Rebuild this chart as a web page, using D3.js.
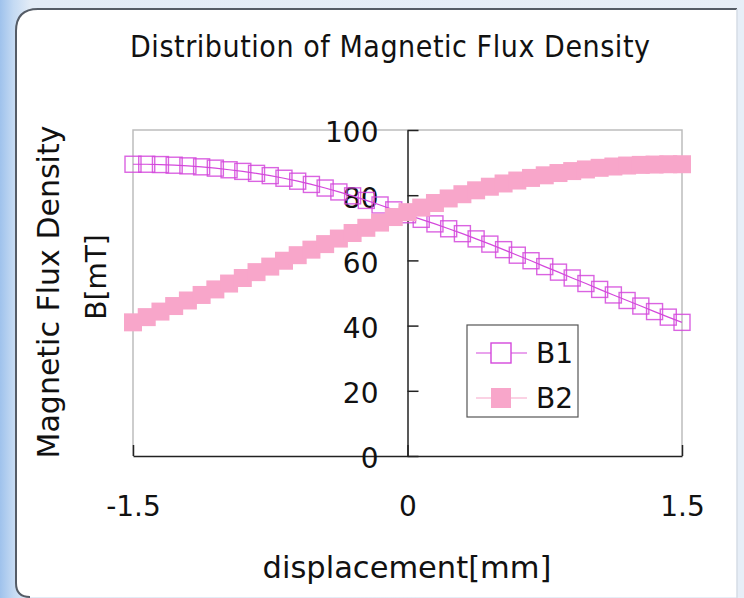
<!DOCTYPE html>
<html>
<head>
<meta charset="utf-8">
<script src="https://cdn.jsdelivr.net/npm/d3@7"></script>
<style>
  html, body { margin: 0; padding: 0; background: #e4edf7; }
  svg { display: block; }
</style>
</head>
<body>
<svg id="chart" width="744" height="598"></svg>
<script>
// Displacement positions [mm]
const displacement = [
  -1.5, -1.425, -1.35, -1.275, -1.2, -1.125, -1.05, -0.975, -0.9, -0.825,
  -0.75, -0.675, -0.6, -0.525, -0.45, -0.375, -0.3, -0.225, -0.15, -0.075,
  0, 0.075, 0.15, 0.225, 0.3, 0.375, 0.45, 0.525, 0.6, 0.675,
  0.75, 0.825, 0.9, 0.975, 1.05, 1.125, 1.2, 1.275, 1.35, 1.425, 1.5
];

// Magnetic flux density B1 [mT]
const b1 = [
  89.5, 89.5, 89.4, 89.2, 89.0, 88.7, 88.3, 87.8, 87.3, 86.7,
  86.0, 85.2, 84.3, 83.3, 82.2, 81.0, 79.8, 78.4, 77.0, 75.5,
  74.0, 72.6, 71.2, 69.7, 68.2, 66.6, 65.0, 63.3, 61.6, 59.9,
  58.1, 56.4, 54.6, 52.9, 51.1, 49.4, 47.7, 46.0, 44.3, 42.6, 41.0
];

// Magnetic flux density B2 [mT]
const b2 = [
  41.0, 42.6, 44.3, 46.0, 47.7, 49.4, 51.1, 52.9, 54.6, 56.4,
  58.1, 59.9, 61.6, 63.3, 65.0, 66.7, 68.4, 70.0, 71.6, 73.3,
  74.8, 76.2, 77.6, 79.0, 80.3, 81.5, 82.6, 83.6, 84.5, 85.3,
  86.1, 86.8, 87.4, 87.9, 88.4, 88.8, 89.1, 89.3, 89.4, 89.5, 89.5
];

const yTicks = [0, 20, 40, 60, 80, 100];
const xTicks = [-1.5, 0, 1.5];
const xTickLabels = ["-1.5", "0", "1.5"];
const seriesNames = ["B1", "B2"];

const title = "Distribution of Magnetic Flux Density";
const xTitle = "displacement[mm]";
const yTitleLines = ["Magnetic Flux Density", "B[mT]"];

const FONT = "'DejaVu Sans', Verdana, sans-serif";
const B1_COLOR = "#d448dc";
const B2_COLOR = "#f8a6ca";

const svg = d3.select("#chart");
const W = 744, H = 598;

// ---- backdrop and rounded panel ----
const defs = svg.append("defs");
const bg = defs.append("linearGradient").attr("id", "bgGrad")
  .attr("x1", "0").attr("x2", "1").attr("y1", "0").attr("y2", "0");
bg.append("stop").attr("offset", "0").attr("stop-color", "#9fc2ec");
bg.append("stop").attr("offset", "0.018").attr("stop-color", "#c4daf3");
bg.append("stop").attr("offset", "0.04").attr("stop-color", "#e2ebf6");
bg.append("stop").attr("offset", "1").attr("stop-color", "#e7eef7");
svg.append("rect").attr("width", W).attr("height", H).attr("fill", "url(#bgGrad)");

const panelPath = "M737,9 H38 Q16,9 16,31 V583 Q16,597 30,597 H737 Z";
svg.append("path").attr("d", panelPath).attr("fill", "#ffffff");
svg.append("path").attr("d", "M737,9 H38 Q16,9 16,31 V583 Q16,597 30,597")
  .attr("fill", "none").attr("stroke", "#555c66").attr("stroke-width", 2);
svg.append("line").attr("x1", 737).attr("x2", 737).attr("y1", 9).attr("y2", H)
  .attr("stroke", "#d6dde6").attr("stroke-width", 1.5);

// ---- scales ----
const x = d3.scaleLinear().domain([-1.5, 1.5]).range([133, 682]);
const y = d3.scaleLinear().domain([0, 100]).range([456, 130]);

// ---- plot frame ----
svg.append("path")
  .attr("d", `M${x(-1.5)},${y(0)} V${y(100)} H${x(1.5)} V${y(0)}`)
  .attr("fill", "none").attr("stroke", "#bdbdbd").attr("stroke-width", 1.5);

// ---- title ----
svg.append("text")
  .attr("x", 390).attr("y", 57)
  .attr("text-anchor", "middle")
  .attr("font-family", "'DejaVu Sans Condensed', 'DejaVu Sans', sans-serif")
  .attr("font-size", 30)
  .attr("textLength", 520).attr("lengthAdjust", "spacing")
  .attr("fill", "#111")
  .text(title);

// ---- x axis (ticks pointing inward) ----
const xAxis = d3.axisBottom(x).tickValues(xTicks)
  .tickSizeInner(-11).tickSizeOuter(0).tickPadding(40)
  .tickFormat((d, i) => xTickLabels[i]);
const gx = svg.append("g").attr("transform", `translate(0,${y(0)})`).call(xAxis);
gx.select(".domain").attr("stroke", "#222").attr("stroke-width", 1.5);
gx.selectAll(".tick line").attr("stroke", "#222").attr("stroke-width", 1.5);
gx.selectAll("text").attr("font-family", FONT).attr("font-size", 28).attr("fill", "#111");

// ---- y axis through x = 0, ticks to the right, labels on the left ----
const yAxisLine = d3.axisRight(y).tickValues(yTicks)
  .tickSizeInner(11).tickSizeOuter(0).tickFormat("");
const gy = svg.append("g").attr("transform", `translate(${x(0)},0)`).call(yAxisLine);
gy.select(".domain").attr("stroke", "#222").attr("stroke-width", 1.5);
gy.selectAll(".tick line").attr("stroke", "#222").attr("stroke-width", 1.5);

const yLabels = d3.axisLeft(y).tickValues(yTicks)
  .tickSize(0).tickPadding(29).tickFormat(d3.format("d"));
const gyl = svg.append("g").attr("transform", `translate(${x(0)},3)`).call(yLabels);
gyl.select(".domain").remove();
gyl.selectAll("text").attr("font-family", FONT).attr("font-size", 28).attr("fill", "#111");

// ---- axis titles ----
svg.append("text")
  .attr("x", 407).attr("y", 578)
  .attr("text-anchor", "middle")
  .attr("font-family", FONT).attr("font-size", 30.5).attr("fill", "#111")
  .text(xTitle);

const yTitleX = [59, 106];
const yTitleCY = [292, 277];
const yTitleSize = [30, 28];
yTitleLines.forEach((t, i) => {
  svg.append("text")
    .attr("transform", `translate(${yTitleX[i]},${yTitleCY[i]}) rotate(-90)`)
    .attr("text-anchor", "middle")
    .attr("font-family", FONT).attr("font-size", yTitleSize[i]).attr("fill", "#111")
    .text(t);
});

// ---- series ----
const rows = displacement.map((d, i) => ({ x: d, b1: b1[i], b2: b2[i] }));
const line = key => d3.line().x(d => x(d.x)).y(d => y(d[key]));

// B1: thin line with open squares
const S1 = 16;
svg.append("path").datum(rows)
  .attr("d", line("b1"))
  .attr("fill", "none").attr("stroke", B1_COLOR).attr("stroke-width", 1.2);
svg.append("g").selectAll("rect").data(rows).join("rect")
  .attr("x", d => x(d.x) - S1 / 2).attr("y", d => y(d.b1) - S1 / 2)
  .attr("width", S1).attr("height", S1)
  .attr("fill", "none").attr("stroke", B1_COLOR).attr("stroke-width", 1.4)
  .attr("stroke-opacity", 0.85);

// B2: line with filled squares
const S2 = 18;
svg.append("path").datum(rows)
  .attr("d", line("b2"))
  .attr("fill", "none").attr("stroke", B2_COLOR).attr("stroke-width", 1.2);
svg.append("g").selectAll("rect").data(rows).join("rect")
  .attr("x", d => x(d.x) - S2 / 2).attr("y", d => y(d.b2) - S2 / 2)
  .attr("width", S2).attr("height", S2)
  .attr("fill", B2_COLOR);

// ---- legend ----
const lg = svg.append("g").attr("transform", "translate(467,325)");
lg.append("rect").attr("width", 111).attr("height", 92)
  .attr("fill", "#fff").attr("stroke", "#555").attr("stroke-width", 1.2);
seriesNames.forEach((name, i) => {
  const cy = 28 + i * 45;
  const color = i === 0 ? B1_COLOR : B2_COLOR;
  lg.append("line").attr("x1", 9).attr("x2", 60).attr("y1", cy).attr("y2", cy)
    .attr("stroke", color).attr("stroke-width", 1.2);
  lg.append("rect").attr("x", 34 - 10).attr("y", cy - 10).attr("width", 20).attr("height", 20)
    .attr("fill", i === 0 ? "#fff" : color)
    .attr("stroke", i === 0 ? color : "none").attr("stroke-width", 1.4);
  lg.append("text").attr("x", 69).attr("y", cy + 10)
    .attr("font-family", FONT).attr("font-size", 28).attr("fill", "#111")
    .text(name);
});
</script>
</body>
</html>
